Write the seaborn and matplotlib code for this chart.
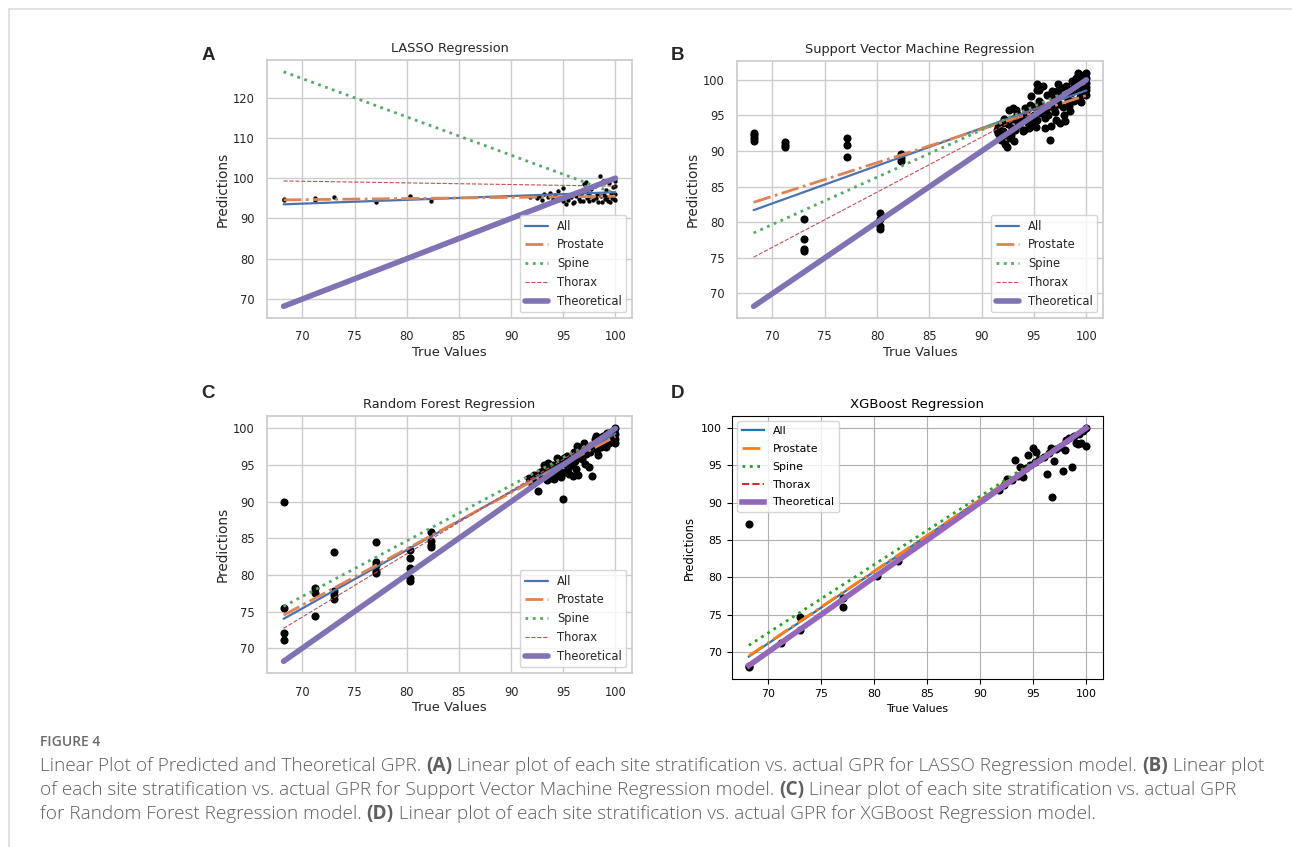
import matplotlib
matplotlib.use('Agg')
import matplotlib.pyplot as plt
from matplotlib.lines import Line2D
import seaborn as sns

# --- data -------------------------------------------------------------
sites = ['All', 'Prostate', 'Spine', 'Thorax']
x_ends = [68.2, 100.0]

# fitted line values at x = 68.2 and x = 100 for each site
lasso_start = [93.5, 94.6, 126.4, 99.3]
lasso_end = [96.5, 95.5, 96.2, 98.0]
svm_start = [81.7, 82.8, 78.5, 75.1]
svm_end = [98.5, 97.8, 99.6, 99.7]
rf_start = [74.0, 74.5, 75.7, 72.7]
rf_end = [99.3, 98.9, 99.8, 100.1]
xgb_start = [69.4, 69.5, 70.9, 68.4]
xgb_end = [100.0, 100.0, 100.0, 100.0]

lasso_true = [68.2, 68.2, 71.2, 71.2, 73.0, 77.1, 80.3, 82.3,
              91.8, 92.5, 92.8, 93.0, 93.2, 93.5, 93.7, 94.0, 94.2, 94.5,
              94.7, 95.0, 95.0, 95.3, 95.5, 95.7, 96.0, 96.2, 96.5, 96.7,
              97.0, 97.2, 97.3, 97.5, 97.7, 97.9, 98.0, 98.2, 98.3, 98.5,
              98.6, 98.8, 99.0, 99.1, 99.3, 99.4, 99.6, 99.7, 99.8, 100.0,
              100.0, 100.0, 100.0, 99.5, 98.9, 97.6, 96.9, 96.4, 95.9, 95.2,
              98.1, 98.7, 99.2, 99.9, 97.4, 96.6]
lasso_pred = [94.8, 94.5, 95.1, 94.6, 95.3, 94.0, 95.5, 94.3,
              95.2, 95.0, 95.6, 94.6, 96.0, 95.3, 96.4, 94.8, 95.8, 96.8,
              95.0, 97.5, 94.2, 93.5, 94.5, 95.2, 94.0, 95.5, 94.8, 96.0,
              98.5, 99.0, 95.0, 94.2, 97.3, 94.6, 98.0, 96.0, 94.0, 100.5,
              95.5, 99.3, 94.8, 97.0, 94.2, 98.8, 96.3, 95.0, 97.8, 99.3,
              96.0, 94.5, 98.0, 94.0, 95.8, 95.5, 94.4, 95.9, 93.8, 95.6,
              95.1, 94.1, 95.4, 94.7, 96.4, 94.3]

svm_true = [68.2, 68.2, 68.2, 68.2, 71.2, 71.2, 71.2, 73.0, 73.0, 73.0,
            73.0, 77.1, 77.1, 77.1, 80.3, 80.3, 80.3, 80.3, 82.3, 82.3,
            82.3,
            91.6, 91.6, 91.8, 92.0, 92.2, 92.4, 92.5, 92.6, 92.8, 93.0,
            93.0, 93.2, 93.4, 93.6, 93.8, 94.0, 94.2, 94.4, 94.6, 94.8,
            95.0, 95.1, 95.3, 95.5, 95.7, 95.9, 96.0, 96.2, 96.4, 96.5,
            96.6, 96.8, 97.0, 97.2, 97.4, 97.5, 97.7, 97.9, 98.0, 98.1,
            98.3, 98.5, 98.6, 98.8, 99.0, 99.1, 99.3, 99.4, 99.6, 99.7,
            99.8, 99.9, 100.0, 100.0, 100.0, 100.0, 99.5, 98.9, 98.2, 97.6,
            96.9, 96.1, 95.4, 94.9, 94.3, 93.5, 92.9, 92.3, 91.7, 95.3,
            91.5, 91.9, 92.1, 92.7, 93.1, 93.3, 93.9, 94.1, 94.5, 95.2,
            95.6, 96.3, 96.7, 97.1, 97.3, 97.8, 98.4, 98.7, 99.2, 99.5,
            99.8, 100.0, 100.0, 95.3, 95.5, 94.7, 98.0, 96.0]
svm_pred = [91.4, 91.8, 92.2, 92.6, 90.5, 90.9, 91.2, 80.5, 77.6, 76.2,
            75.9, 91.9, 90.8, 89.1, 81.3, 80.4, 79.5, 79.0, 89.6, 89.0,
            88.6,
            92.5, 93.4, 91.6, 92.8, 91.0, 90.5, 93.8, 95.8, 92.3, 96.0,
            94.5, 93.0, 95.2, 93.6, 94.8, 93.0, 95.5, 94.0, 96.5, 93.6,
            95.0, 96.2, 94.3, 97.0, 95.3, 99.2, 94.6, 97.8, 96.3, 91.6,
            93.5, 97.5, 95.5, 98.4, 96.6, 93.9, 97.9, 95.0, 94.2, 99.2,
            96.3, 98.2, 99.8, 97.0, 100.3, 98.5, 99.6, 97.6, 100.6, 99.0,
            98.0, 100.8, 99.5, 98.6, 97.8, 100.2, 98.9, 99.4, 97.2, 98.9,
            96.0, 95.8, 95.9, 94.7, 94.4, 94.0, 93.3, 92.2, 92.0, 98.5,
            93.0, 93.9, 94.5, 91.8, 91.4, 95.8, 92.8, 96.1, 93.2, 93.4,
            96.8, 95.1, 98.4, 94.3, 99.4, 96.2, 95.6, 98.8, 100.9, 96.9,
            100.1, 101.0, 99.0, 99.4, 98.5, 97.7, 97.8, 93.2]

rf_true = [68.2, 68.2, 68.2, 68.2, 71.2, 71.2, 71.2, 73.0, 73.0, 73.0,
           73.0, 77.1, 77.1, 77.1, 77.1, 77.1, 80.3, 80.3, 80.3, 80.3,
           80.3, 82.3, 82.3, 82.3, 82.3,
           91.7, 92.0, 92.4, 92.6, 92.8, 93.0, 93.2, 93.4, 93.6, 93.8,
           94.0, 94.2, 94.4, 94.6, 94.8, 95.0, 95.0, 95.2, 95.4, 95.6,
           95.8, 96.0, 96.2, 96.4, 96.6, 96.8, 97.0, 97.2, 97.4, 97.6,
           97.8, 98.0, 98.2, 98.4, 98.6, 98.8, 99.0, 99.2, 99.4, 99.6,
           99.8, 100.0, 100.0, 100.0, 95.3, 94.3, 96.9, 98.1,
           92.2, 93.1, 93.5, 94.1, 94.5, 95.1, 95.5, 95.9, 96.1, 96.5,
           97.1, 97.5, 97.9, 98.3, 98.7, 99.1, 99.5, 99.9, 100.0, 96.3,
           94.9, 93.3]
rf_pred = [90.0, 75.5, 72.1, 71.1, 78.2, 77.5, 74.4, 83.1, 77.8, 77.2,
           76.7, 84.5, 81.8, 81.3, 80.6, 80.2, 83.4, 82.3, 81.0, 79.6,
           79.2, 85.8, 84.6, 84.1, 83.8,
           93.2, 92.4, 93.0, 91.5, 94.0, 93.5, 95.0, 93.0, 94.5, 93.2,
           95.0, 93.6, 96.0, 94.2, 93.3, 90.4, 95.6, 94.0, 96.2, 93.8,
           95.0, 96.8, 94.4, 93.7, 97.0, 95.8, 98.0, 96.5, 97.3, 96.8,
           93.5, 98.5, 97.0, 98.0, 97.5, 99.0, 98.2, 99.4, 98.0, 99.5,
           98.6, 100.1, 99.3, 98.5, 95.2, 94.8, 97.2, 99.0,
           93.6, 94.2, 95.3, 93.1, 94.6, 96.0, 94.6, 93.5, 95.6, 96.2,
           95.2, 94.7, 97.8, 96.4, 98.4, 97.4, 99.2, 99.7, 98.0, 97.6,
           95.3, 93.8]

xgb_true = [68.2, 68.2, 68.2, 71.2, 73.0, 73.0, 77.1, 77.1, 80.3, 82.3,
            91.8, 92.3, 92.5, 93.0, 93.3, 93.6, 93.8, 94.0, 94.3, 94.5,
            94.7, 95.0, 95.2, 95.3, 95.6, 96.0, 96.3, 96.5, 96.7, 96.8,
            97.0, 97.2, 97.5, 97.8, 98.0, 98.1, 98.4, 98.7, 98.9, 99.0,
            99.3, 99.5, 99.7, 100.0, 100.0, 99.2]
xgb_pred = [87.1, 68.2, 68.0, 71.2, 74.7, 73.0, 77.3, 76.1, 80.2, 82.2,
            91.7, 92.4, 93.2, 93.0, 95.7, 93.6, 94.8, 93.4, 94.6, 96.4,
            95.0, 97.3, 95.5, 96.8, 95.8, 96.1, 93.9, 96.7, 97.3, 90.7,
            95.6, 97.2, 97.5, 94.2, 97.1, 98.4, 98.6, 94.8, 98.9, 98.0,
            99.2, 98.0, 99.6, 97.6, 100.0, 97.9]

panels = [
    ('A', 'LASSO Regression', lasso_true, lasso_pred, lasso_start, lasso_end),
    ('B', 'Support Vector Machine Regression', svm_true, svm_pred, svm_start, svm_end),
    ('C', 'Random Forest Regression', rf_true, rf_pred, rf_start, rf_end),
    ('D', 'XGBoost Regression', xgb_true, xgb_pred, xgb_start, xgb_end),
]

# --- figure -------------------------------------------------------------
W, H = 1292, 847
sns.set_theme(style='whitegrid')
plt.rcParams['font.family'] = ['DejaVu Sans']
fig = plt.figure(figsize=(W / 100, H / 100), dpi=100)


def rect(l, t, r, b):
    return [l / W, 1 - b / H, (r - l) / W, (b - t) / H]


boxes = {'A': rect(267, 60, 632, 318), 'B': rect(737, 61, 1103, 318),
         'C': rect(267, 416, 632, 673), 'D': rect(732, 416, 1103, 679)}
letter_pos = {'A': (208, 55), 'B': (678, 55), 'C': (208, 393), 'D': (678, 393)}

deep = sns.color_palette('deep')
tab = ['tab:blue', 'tab:orange', 'tab:green', 'tab:red', 'tab:purple']
styles = [('-', 1.6), ('-.', 2.0), (':', 2.0), ('--', 0.8)]
dv = {'font.family': ['DejaVu Sans'], 'font.sans-serif': ['DejaVu Sans']}

for key, title, xt, yp, y0, y1 in panels:
    if key == 'D':
        ctx = plt.style.context('default')
        cols = tab
    else:
        ctx = sns.axes_style('whitegrid', rc=dv)
        cols = deep
    with ctx:
        ax = fig.add_axes(boxes[key])
        sns.scatterplot(x=xt, y=yp, color='black', linewidth=0,
                        s=10 if key == 'A' else 34, ax=ax, zorder=2)
        for i, site in enumerate(sites):
            ls, lw = styles[i]
            if key == 'D' and site == 'Thorax':
                lw = 1.4
            sns.lineplot(x=x_ends, y=[y0[i], y1[i]], color=cols[i], linestyle=ls,
                         linewidth=lw, label=site, ax=ax, zorder=3)
        sns.lineplot(x=x_ends, y=x_ends, color=cols[4], linewidth=4,
                     label='Theoretical', ax=ax, zorder=4)
        ax.set_xticks([70, 75, 80, 85, 90, 95, 100])
        if key == 'D':
            ax.grid(True)
            ax.tick_params(labelsize=7.9)
            ax.set_title(title, fontsize=9.5)
            ax.set_xlabel('True Values', fontsize=7.8)
            ax.set_ylabel('Predictions', fontsize=8.4)
            ax.legend(loc='upper left', fontsize=7.9, labelspacing=0.72)
        else:
            ax.tick_params(labelsize=8.3, pad=3)
            ax.set_title(title, fontsize=9.3)
            ax.set_xlabel('True Values', fontsize=9.4, labelpad=2)
            ax.set_ylabel('Predictions', fontsize=9.8, labelpad=2)
            ax.legend(loc='lower right', fontsize=8.3)
    lx, ly = letter_pos[key]
    fig.text(lx / W, 1 - ly / H, key, fontsize=13.5, weight='bold',
             family='Liberation Sans', ha='center', va='center')

# --- page frame and caption ------------------------------------------
fig.add_artist(Line2D([9 / W, 1], [1 - 9 / H, 1 - 9 / H], color='#dddddd', lw=1.2))
fig.add_artist(Line2D([9 / W, 9 / W], [0, 1 - 9 / H], color='#dddddd', lw=1.2))

cap_col = '#5f5f5f'
cap_font = ['Open Sans', 'DejaVu Sans']
fig.text(40 / W, 1 - 742 / H, 'FIGURE 4', fontsize=10.0, weight='semibold',
         color='#6a6a6a', family=cap_font, va='center')

caption = [
    [('Linear Plot of Predicted and Theoretical GPR. ', False), ('(A)', True),
     (' Linear plot of each site stratification vs. actual GPR for LASSO Regression model. ', False),
     ('(B)', True), (' Linear plot', False)],
    [('of each site stratification vs. actual GPR for Support Vector Machine Regression model. ', False),
     ('(C)', True), (' Linear plot of each site stratification vs. actual GPR', False)],
    [('for Random Forest Regression model. ', False), ('(D)', True),
     (' Linear plot of each site stratification vs. actual GPR for XGBoost Regression model.', False)],
]
cap_y = [766, 790, 814]
renderer = fig.canvas.get_renderer()


def piece_widths(parts, fs):
    out = []
    for txt, bold in parts:
        t = fig.text(0, 0, txt, fontsize=fs, family=cap_font,
                     weight='bold' if bold else 'light')
        out.append(t.get_window_extent(renderer=renderer).width)
        t.remove()
    return out


# scale the caption so that the first line spans the same width as the source
cap_fs = 10 * 1223 / sum(piece_widths(caption[0], 10))
for parts, yy in zip(caption, cap_y):
    xx = 40
    for (txt, bold), w in zip(parts, piece_widths(parts, cap_fs)):
        fig.text(xx / W, 1 - yy / H, txt, fontsize=cap_fs, color=cap_col,
                 family=cap_font, weight='bold' if bold else 'light',
                 va='center')
        xx += w

fig.savefig('out.png', dpi=100)
